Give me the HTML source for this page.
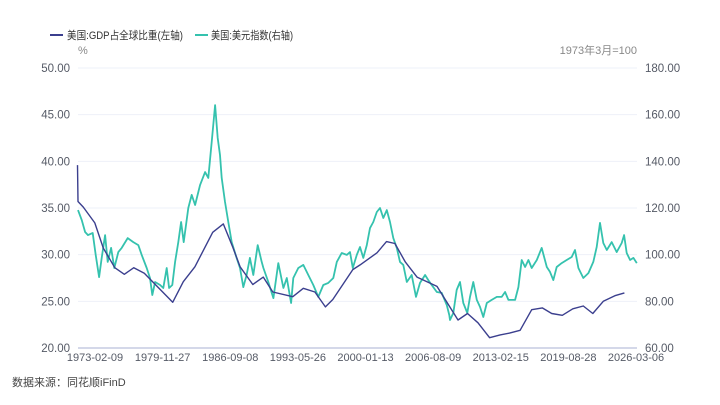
<!DOCTYPE html>
<html><head><meta charset="utf-8"><style>
body{margin:0;background:#fff;width:720px;height:400px;overflow:hidden;font-family:"Liberation Sans","Noto Sans CJK SC",sans-serif}
svg text{font-family:"Liberation Sans","Noto Sans CJK SC",sans-serif}
</style></head><body>
<svg id="c" width="720" height="400"></svg>
<script>
const gdpYears=[1973.05,1973.1,1973.6,1974.7,1975.5,1976.6,1977.5,1978.4,1979.4,1982.1,1983.1,1984.2,1985.9,1986.9,1987.8,1988.5,1989.7,1990.7,1991.6,1993.5,1994.5,1995.6,1996.6,1997.3,1999.2,1999.9,2001.5,2002.4,2003.2,2004.2,2005.3,2007.2,2009.2,2010.1,2011.1,2012.2,2013.2,2014.1,2015.1,2016.2,2017.2,2018.1,2019.1,2020.1,2021.1,2022.0,2023.0,2024.1,2025.0];
const gdpValues=[39.6,35.7,35.1,33.4,30.7,28.6,27.9,28.6,28.0,24.9,27.1,28.7,32.4,33.3,30.8,28.7,26.8,27.6,26.0,25.5,26.4,26.0,24.4,25.2,28.4,28.9,30.2,31.4,31.2,29.2,27.6,26.6,23.0,23.7,22.7,21.1,21.4,21.6,21.9,24.1,24.3,23.7,23.5,24.2,24.5,23.7,25.0,25.6,25.9];
const usdYears=[1973.1,1973.45,1973.77,1974.05,1974.5,1974.78,1975.1,1975.35,1975.67,1975.92,1976.24,1976.55,1976.93,1977.25,1977.82,1978.35,1978.83,1979.15,1979.63,1979.94,1980.16,1980.42,1980.9,1981.2,1981.53,1981.75,1982.06,1982.32,1982.63,1982.89,1983.14,1983.58,1983.9,1984.22,1984.7,1985.17,1985.48,1985.8,1986.12,1986.37,1986.59,1986.75,1987.06,1987.38,1987.7,1988.17,1988.49,1988.8,1989.12,1989.43,1989.75,1990.17,1990.55,1990.71,1991.18,1991.66,1992.13,1992.61,1992.93,1993.34,1993.55,1994.03,1994.5,1994.98,1995.45,1995.93,1996.4,1996.88,1997.35,1997.68,1998.15,1998.63,1998.94,1999.2,1999.58,1999.89,2000.2,2000.53,2000.84,2001.15,2001.48,2001.79,2002.1,2002.43,2002.74,2003.05,2003.38,2003.69,2004.0,2004.33,2004.8,2005.21,2005.59,2006.07,2006.38,2006.7,2007.18,2007.65,2008.13,2008.37,2008.44,2008.75,2009.07,2009.39,2009.7,2010.08,2010.34,2010.65,2010.98,2011.29,2011.6,2011.93,2012.4,2012.88,2013.35,2013.67,2013.98,2014.62,2014.93,2015.25,2015.57,2015.88,2016.2,2016.68,2017.15,2017.63,2017.94,2018.25,2018.57,2019.05,2019.52,2020.0,2020.31,2020.63,2021.1,2021.58,2022.05,2022.37,2022.69,2023.0,2023.33,2023.8,2024.27,2024.75,2024.97,2025.22,2025.54,2025.86,2026.18];
const usdValues=[119.1,114.9,109.7,108.4,109.3,99.9,90.4,98.6,108.4,96.9,102.9,94.3,101.1,102.9,107.1,105.4,104.1,99.9,94.3,90.0,82.7,88.3,87.0,85.7,94.3,85.7,87.0,96.9,105.4,114.0,105.4,120.0,125.6,121.3,129.9,135.4,132.9,148.3,164.1,150.0,142.7,132.9,122.6,114.0,105.4,98.6,94.3,86.1,91.3,98.6,91.3,104.1,96.9,94.3,88.3,81.4,96.4,85.7,90.0,79.3,90.0,94.3,95.6,91.3,87.0,81.9,87.0,87.9,90.0,96.9,100.7,99.9,101.1,94.3,99.9,103.3,98.6,104.1,111.4,114.0,118.3,120.0,115.7,119.1,114.0,107.1,102.9,96.9,95.6,88.3,91.3,81.9,87.9,91.3,89.1,87.0,84.0,83.6,78.4,74.1,72.0,75.0,84.9,88.3,79.3,75.0,81.9,88.3,80.6,77.6,73.3,79.3,80.6,81.9,81.9,84.0,80.6,80.6,86.1,97.7,94.7,97.7,94.3,97.7,102.9,94.7,92.6,89.1,94.7,96.4,97.7,99.0,102.0,94.3,90.0,92.1,96.9,103.3,113.6,105.0,102.0,105.4,101.1,105.0,108.4,100.7,97.7,98.6,96.4];
const leftTicks=["20.00","25.00","30.00","35.00","40.00","45.00","50.00"];
const rightTicks=["60.00","80.00","100.00","120.00","140.00","160.00","180.00"];
const xLabels=["1973-02-09","1979-11-27","1986-09-08","1993-05-26","2000-01-13","2006-08-09","2013-02-15","2019-08-28","2026-03-06"];

const NS="http://www.w3.org/2000/svg",svg=document.getElementById('c');
const X0=78,X1=637,Y0=348,Y1=68,T0=1973.1,T1=2026.2;
const xs=t=>X0+(t-T0)/(T1-T0)*(X1-X0);
const yl=v=>Y0-(v-20)/30*(Y0-Y1);
const yr=v=>Y0-(v-60)/120*(Y0-Y1);
function el(tag,attrs,txt){const e=document.createElementNS(NS,tag);for(const k in attrs)e.setAttribute(k,attrs[k]);if(txt!==undefined)e.textContent=txt;svg.appendChild(e);return e;}

leftTicks.forEach((t,i)=>{
  const v=parseFloat(t),y=yl(v);
  if(i>0){const g=el('line',{x1:X0,x2:X1,y1:y,y2:y,stroke:'#eef0f8','stroke-width':1});
  
  }
  const a=el('text',{x:70,y:y+4,'text-anchor':'end','font-size':11.5,fill:'#555a66'},t);
  
  
});
rightTicks.forEach(t=>{
  const a=el('text',{x:645,y:yr(parseFloat(t))+4,'font-size':11.5,fill:'#555a66'},t);
  
  
});
const ax=el('line',{x1:X0,x2:X1,y1:Y0,y2:Y0,stroke:'#a9b1d3','stroke-width':1});


xLabels.forEach((t,i)=>{
  const x=95+i*(636-95)/(xLabels.length-1);
  const a=el('text',{x:x,y:361,'text-anchor':'middle','font-size':11,fill:'#555a66'},t);
  
  
});
const usd=el('polyline',{points:usdYears.map((t,i)=>xs(t).toFixed(1)+','+yr(usdValues[i]).toFixed(1)).join(' '),fill:'none',stroke:'#35c2ae','stroke-width':1.8,'stroke-linejoin':'round'});


const gdp=el('polyline',{points:gdpYears.map((t,i)=>xs(t).toFixed(1)+','+yl(gdpValues[i]).toFixed(1)).join(' '),fill:'none',stroke:'#3b3f8e','stroke-width':1.4,'stroke-linejoin':'round'});


</script>
<svg width="720" height="400" style="position:absolute;left:0;top:0">
<g><line x1="50" y1="35" x2="63" y2="35" stroke="#3b3f8e" stroke-width="2"/><text x="67" y="39" font-size="11" fill="#333" textLength="116" lengthAdjust="spacingAndGlyphs">美国:GDP占全球比重(左轴)</text></g>
<g><line x1="195" y1="35" x2="208" y2="35" stroke="#35c2ae" stroke-width="2"/><text x="211" y="39" font-size="11" fill="#333" textLength="82" lengthAdjust="spacingAndGlyphs">美国:美元指数(右轴)</text></g>
<text x="78" y="54" font-size="11" fill="#888">%</text>
<text x="637" y="54" font-size="11" fill="#888" text-anchor="end">1973年3月=100</text>
<text x="12" y="386" font-size="11" fill="#444">数据来源：同花顺iFinD</text>
</svg>
</body></html>
